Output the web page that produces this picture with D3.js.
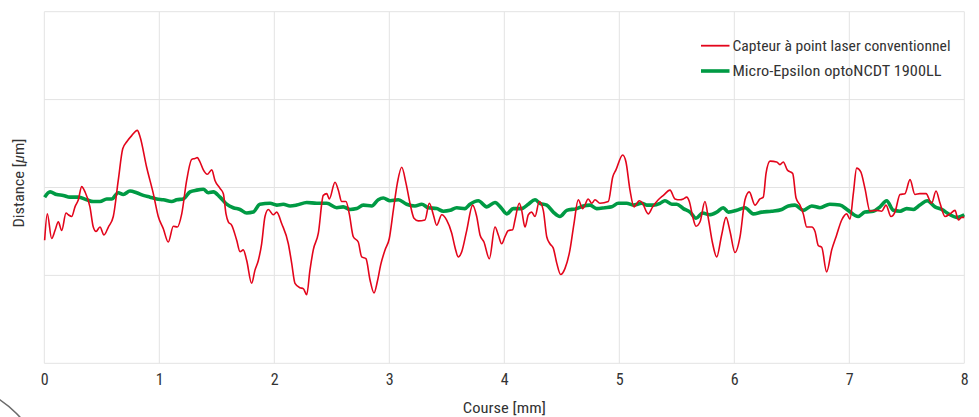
<!DOCTYPE html>
<html>
<head>
<meta charset="utf-8">
<script src="https://cdn.jsdelivr.net/npm/d3@7"></script>
<style>
  body { margin: 0; background: #fff; }
  svg { display: block; }
  text { font-family: "Liberation Sans Narrow", "Roboto Condensed", "Roboto", sans-serif; fill: #333; }
</style>
</head>
<body>
<div id="chart"></div>
<script>
// course in mm, distance in µm
const xTicks = [0, 1, 2, 3, 4, 5, 6, 7, 8];
const yTicks = [-2, -1, 0, 1, 2];

const seriesNames = ['Capteur à point laser conventionnel', 'Micro-Epsilon optoNCDT 1900LL'];

const redX = [0.003, 0.026, 0.064, 0.093, 0.122, 0.151, 0.189, 0.209, 0.238, 0.267, 0.296, 0.325, 0.354, 0.397, 0.426, 0.450, 0.484, 0.519, 0.557, 0.600,
  0.643, 0.682, 0.717, 0.760, 0.809, 0.832, 0.890, 0.948, 0.991, 1.035, 1.078, 1.122, 1.157, 1.195, 1.238, 1.282, 1.310, 1.330, 1.354, 1.383,
  1.417, 1.456, 1.484, 1.528, 1.557, 1.580, 1.600, 1.630, 1.673, 1.702, 1.730, 1.760, 1.803, 1.832, 1.861, 1.890, 1.919, 1.948, 1.991, 2.021,
  2.064, 2.122, 2.151, 2.180, 2.223, 2.252, 2.282, 2.310, 2.339, 2.383, 2.426, 2.456, 2.478, 2.528, 2.557, 2.586, 2.623, 2.652, 2.687, 2.730,
  2.760, 2.797, 2.832, 2.867, 2.896, 2.925, 2.963, 3.000, 3.035, 3.070, 3.108, 3.145, 3.180, 3.215, 3.252, 3.310, 3.348, 3.383, 3.412, 3.456,
  3.499, 3.543, 3.571, 3.600, 3.630, 3.673, 3.725, 3.760, 3.789, 3.823, 3.870, 3.919, 3.948, 3.977, 4.006, 4.035, 4.073, 4.093, 4.130, 4.151,
  4.180, 4.209, 4.238, 4.267, 4.304, 4.339, 4.369, 4.397, 4.426, 4.456, 4.490, 4.528, 4.571, 4.606, 4.643, 4.682, 4.730, 4.760, 4.789, 4.832,
  4.904, 4.943, 4.971, 5.030, 5.058, 5.093, 5.128, 5.174, 5.203, 5.238, 5.252, 5.290, 5.339, 5.383, 5.441, 5.484, 5.528, 5.557, 5.586, 5.609,
  5.638, 5.667, 5.702, 5.745, 5.774, 5.812, 5.847, 5.890, 5.928, 5.963, 6.006, 6.050, 6.093, 6.130, 6.180, 6.223, 6.252, 6.276, 6.311, 6.369,
  6.397, 6.426, 6.461, 6.508, 6.537, 6.571, 6.600, 6.630, 6.673, 6.702, 6.730, 6.760, 6.803, 6.847, 6.890, 6.934, 6.977, 7.006, 7.035, 7.064,
  7.099, 7.136, 7.180, 7.232, 7.282, 7.319, 7.362, 7.397, 7.441, 7.484, 7.528, 7.571, 7.614, 7.667, 7.716, 7.754, 7.789, 7.832, 7.876, 7.919,
  7.948, 7.977, 8.000];
const redY = [-0.60, -0.30, -0.58, -0.49, -0.39, -0.49, -0.29, -0.31, -0.33, -0.22, -0.14, 0.01, -0.05, -0.22, -0.45, -0.50, -0.45, -0.54, -0.45, -0.33,
  0.08, 0.44, 0.52, 0.59, 0.65, 0.58, 0.23, -0.07, -0.33, -0.47, -0.62, -0.44, -0.45, -0.30, 0.08, 0.32, 0.33, 0.34, 0.29, 0.20,
  0.15, 0.20, 0.08, -0.01, -0.07, -0.30, -0.39, -0.43, -0.60, -0.73, -0.71, -0.83, -1.09, -0.94, -0.83, -0.64, -0.33, -0.25, -0.31, -0.28,
  -0.41, -0.64, -0.86, -1.09, -1.14, -1.15, -1.22, -0.94, -0.71, -0.52, -0.09, -0.07, -0.13, 0.06, -0.03, -0.16, -0.16, -0.30, -0.56, -0.62,
  -0.79, -0.81, -1.05, -1.20, -1.07, -0.88, -0.71, -0.58, -0.26, 0.05, 0.23, 0.05, -0.18, -0.35, -0.38, -0.37, -0.18, -0.31, -0.43, -0.31,
  -0.37, -0.52, -0.68, -0.79, -0.73, -0.49, -0.20, -0.33, -0.54, -0.62, -0.81, -0.45, -0.54, -0.64, -0.56, -0.49, -0.48, -0.37, -0.18, -0.26,
  -0.45, -0.31, -0.28, -0.33, -0.16, -0.26, -0.56, -0.64, -0.69, -0.86, -0.99, -0.92, -0.71, -0.41, -0.14, -0.24, -0.13, -0.18, -0.14, -0.18,
  -0.16, 0.12, 0.20, 0.37, 0.29, -0.03, -0.22, -0.15, -0.18, -0.28, -0.30, -0.22, -0.14, -0.09, -0.03, -0.13, -0.14, -0.13, -0.11, -0.16,
  -0.33, -0.44, -0.39, -0.16, -0.35, -0.64, -0.79, -0.54, -0.34, -0.50, -0.74, -0.56, -0.14, -0.05, -0.20, -0.13, -0.11, 0.16, 0.30, 0.29,
  0.26, 0.29, 0.20, 0.16, -0.12, -0.20, -0.30, -0.45, -0.45, -0.50, -0.66, -0.68, -0.96, -0.71, -0.54, -0.37, -0.30, -0.36, -0.07, 0.22,
  0.18, -0.01, -0.27, -0.26, -0.27, -0.20, -0.33, -0.28, -0.08, -0.07, 0.09, -0.08, -0.07, -0.07, -0.18, -0.04, -0.18, -0.33, -0.30, -0.26,
  -0.37, -0.34, -0.34];

const greenX = [0.003, 0.050, 0.108, 0.165, 0.223, 0.296, 0.369, 0.426, 0.484, 0.543, 0.586, 0.643, 0.687, 0.745, 0.803, 0.861, 0.919, 0.977, 1.035, 1.108,
  1.151, 1.209, 1.267, 1.325, 1.383, 1.426, 1.470, 1.528, 1.586, 1.643, 1.702, 1.760, 1.817, 1.875, 1.963, 2.021, 2.078, 2.137, 2.195, 2.282,
  2.369, 2.456, 2.543, 2.600, 2.658, 2.717, 2.774, 2.847, 2.904, 2.948, 3.006, 3.078, 3.151, 3.223, 3.282, 3.339, 3.412, 3.470, 3.528, 3.586,
  3.658, 3.702, 3.774, 3.847, 3.919, 3.977, 4.021, 4.078, 4.151, 4.209, 4.267, 4.310, 4.369, 4.426, 4.484, 4.543, 4.630, 4.687, 4.745, 4.803,
  4.875, 4.934, 4.991, 5.064, 5.122, 5.195, 5.238, 5.296, 5.354, 5.397, 5.456, 5.499, 5.557, 5.615, 5.667, 5.725, 5.783, 5.847, 5.904, 5.948,
  6.021, 6.093, 6.165, 6.238, 6.325, 6.412, 6.470, 6.528, 6.600, 6.673, 6.745, 6.830, 6.917, 6.990, 7.077, 7.136, 7.209, 7.267, 7.325, 7.383,
  7.441, 7.499, 7.557, 7.614, 7.678, 7.745, 7.803, 7.876, 7.934, 8.000];
const greenY = [-0.11, -0.05, -0.08, -0.09, -0.11, -0.11, -0.14, -0.16, -0.16, -0.13, -0.13, -0.06, -0.08, -0.04, -0.06, -0.09, -0.11, -0.13, -0.14, -0.16,
  -0.14, -0.13, -0.05, -0.03, -0.02, -0.06, -0.05, -0.11, -0.19, -0.23, -0.25, -0.29, -0.28, -0.19, -0.18, -0.20, -0.19, -0.21, -0.20, -0.17,
  -0.18, -0.18, -0.23, -0.22, -0.25, -0.24, -0.20, -0.21, -0.14, -0.12, -0.15, -0.14, -0.19, -0.21, -0.19, -0.23, -0.24, -0.27, -0.26, -0.23,
  -0.24, -0.19, -0.15, -0.22, -0.17, -0.24, -0.30, -0.24, -0.24, -0.19, -0.14, -0.18, -0.20, -0.28, -0.33, -0.26, -0.24, -0.21, -0.20, -0.24,
  -0.23, -0.22, -0.18, -0.18, -0.20, -0.18, -0.20, -0.20, -0.18, -0.15, -0.19, -0.19, -0.24, -0.28, -0.35, -0.29, -0.31, -0.28, -0.23, -0.28,
  -0.26, -0.23, -0.30, -0.28, -0.27, -0.25, -0.21, -0.20, -0.26, -0.21, -0.23, -0.19, -0.20, -0.26, -0.33, -0.28, -0.27, -0.22, -0.15, -0.26,
  -0.27, -0.24, -0.25, -0.20, -0.15, -0.22, -0.25, -0.31, -0.34, -0.31];

const svgWidth = 979;
const svgHeight = 417;
const margin = { top: 11.7, left: 44.3, right: 14.7, bottom: 53.7 };
const width = svgWidth - margin.left - margin.right;
const height = svgHeight - margin.top - margin.bottom;

const svg = d3.select('#chart').append('svg')
    .attr('width', svgWidth)
    .attr('height', svgHeight);

// decorative arc in the lower left corner
svg.append('circle')
    .attr('cx', -62)
    .attr('cy', 492)
    .attr('r', 111)
    .attr('fill', 'none')
    .attr('stroke', '#6b6b6b')
    .attr('stroke-width', 1.6);

const g = svg.append('g')
    .attr('transform', 'translate(' + margin.left + ',' + margin.top + ')');

const xScale = d3.scaleLinear().domain([0, 8]).range([0, width]);
const yScale = d3.scaleLinear().domain([-2, 2]).range([height, 0]);

// grid
g.append('g')
    .selectAll('line')
    .data(xTicks)
    .enter()
    .append('line')
    .attr('x1', d => xScale(d))
    .attr('x2', d => xScale(d))
    .attr('y1', 0)
    .attr('y2', height)
    .attr('stroke', '#e3e3e3');
g.append('g')
    .selectAll('line')
    .data(yTicks)
    .enter()
    .append('line')
    .attr('x1', 0)
    .attr('x2', width)
    .attr('y1', d => yScale(d))
    .attr('y2', d => yScale(d))
    .attr('stroke', '#e3e3e3');

// x axis labels only
const xAxis = d3.axisBottom(xScale).tickValues(xTicks).tickSize(0).tickPadding(10).tickFormat(d3.format('d'));
const gX = g.append('g')
    .attr('transform', 'translate(0,' + height + ')')
    .call(xAxis);
gX.select('.domain').remove();
gX.selectAll('text')
    .style('font-family', '"Liberation Sans Narrow", "Roboto Condensed", Roboto, sans-serif')
    .style('font-size', '16px')
    .attr('fill', '#333');

g.append('text')
    .attr('x', width / 2)
    .attr('y', height + 50)
    .attr('text-anchor', 'middle')
    .attr('textLength', 83)
    .attr('lengthAdjust', 'spacingAndGlyphs')
    .style('font-size', '15px')
    .text('Course [mm]');

const yTitle = g.append('text')
    .attr('transform', 'translate(' + (-20) + ',' + (yScale(0.05)) + ') rotate(-90)')
    .attr('text-anchor', 'middle')
    .attr('textLength', 89)
    .attr('lengthAdjust', 'spacingAndGlyphs')
    .style('font-size', '15px');
yTitle.append('tspan').text('Distance [');
yTitle.append('tspan').style('font-style', 'italic').text('μ');
yTitle.append('tspan').text('m]');

const line = d3.line()
    .x(d => xScale(d[0]))
    .y(d => yScale(d[1]))
    .curve(d3.curveMonotoneX);

const greenData = greenX.map((x, i) => [x, greenY[i]]);
const redData = redX.map((x, i) => [x, redY[i]]);

g.append('path')
    .datum(greenData)
    .attr('d', line)
    .attr('fill', 'none')
    .attr('stroke', '#009a44')
    .attr('stroke-width', 3.6)
    .attr('stroke-linejoin', 'round');

g.append('path')
    .datum(redData)
    .attr('d', line)
    .attr('fill', 'none')
    .attr('stroke', '#e3051b')
    .attr('stroke-width', 1.6)
    .attr('stroke-linejoin', 'round');

// legend
const legend = svg.append('g').attr('transform', 'translate(701,0)');
const legendColors = ['#e3051b', '#009a44'];
const legendWidths = [1.8, 3.6];
const legendText = [218, 209];
seriesNames.forEach((name, i) => {
    const y = 45.7 + i * 25.3;
    legend.append('line')
        .attr('x1', 0).attr('x2', 28.5)
        .attr('y1', y).attr('y2', y)
        .attr('stroke', legendColors[i])
        .attr('stroke-width', legendWidths[i]);
    legend.append('text')
        .attr('x', 31.5)
        .attr('y', y + 5.3)
        .attr('textLength', legendText[i])
        .attr('lengthAdjust', 'spacingAndGlyphs')
        .style('font-size', '15px')
        .text(name);
});
</script>
</body>
</html>
